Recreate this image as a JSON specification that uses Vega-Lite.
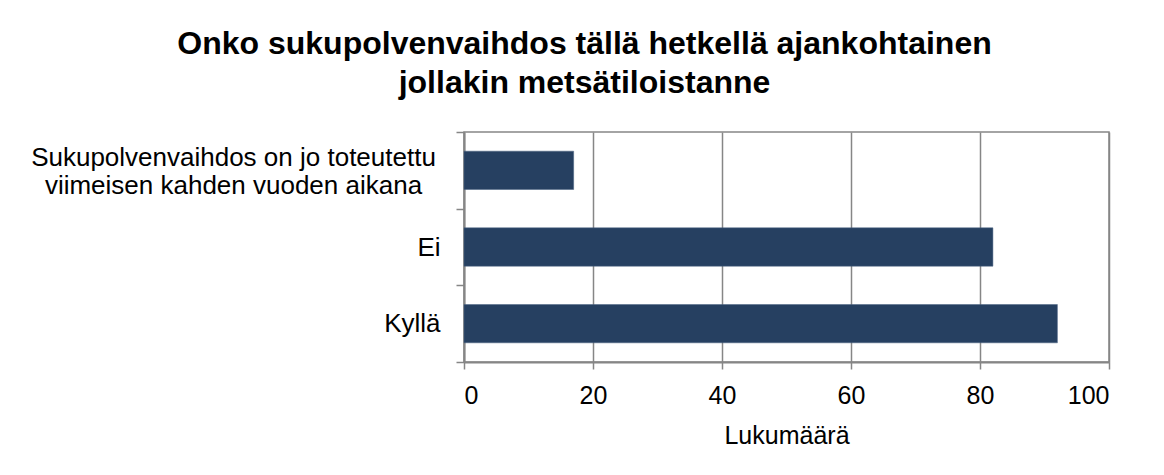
{
  "$schema": "https://vega.github.io/schema/vega-lite/v6.json",
  "autosize": "none",
  "padding": {"left": 464, "top": 132, "right": 55, "bottom": 113},
  "width": 645,
  "height": 230,
  "background": "white",
  "config": {
    "font": "Liberation Sans",
    "view": {"stroke": "#868686", "strokeWidth": 1.5},
    "axis": {
      "domainColor": "#868686",
      "domainWidth": 2,
      "tickColor": "#868686",
      "tickWidth": 1.5,
      "gridColor": "#868686",
      "gridWidth": 1.5,
      "labelColor": "#000000",
      "titleColor": "#000000",
      "labelFont": "Liberation Sans",
      "titleFont": "Liberation Sans"
    }
  },
  "title": {
    "text": ["Onko sukupolvenvaihdos tällä hetkellä ajankohtainen", "jollakin metsätiloistanne"],
    "font": "Liberation Sans",
    "fontSize": 32,
    "fontWeight": "bold",
    "color": "#000000",
    "anchor": "middle",
    "frame": "group",
    "dx": -202,
    "offset": 19,
    "lineHeight": 39
  },
  "data": {
    "values": [
      {"vastaus": "Sukupolvenvaihdos on jo toteutettu viimeisen kahden vuoden aikana", "lukumaara": 17},
      {"vastaus": "Ei", "lukumaara": 82},
      {"vastaus": "Kyllä", "lukumaara": 92}
    ]
  },
  "mark": {"type": "bar", "color": "#264061", "stroke": "#4a6282", "strokeWidth": 0.5, "height": {"band": 0.5}},
  "encoding": {
    "y": {
      "field": "vastaus",
      "type": "nominal",
      "sort": null,
      "scale": {"paddingInner": 0, "paddingOuter": 0},
      "axis": {
        "title": null,
        "tickBand": "extent",
        "tickSize": 8,
        "labelPadding": {"condition": {"test": "datum.value == 'Ei' || datum.value == 'Kyllä'", "value": 16}, "value": 223},
        "labelFontSize": 26,
        "labelLimit": 500,
        "labelLineHeight": 28,
        "labelOffset": {"condition": {"test": "datum.value == 'Ei' || datum.value == 'Kyllä'", "value": 0}, "value": -13},
        "labelAlign": {"condition": {"test": "datum.value == 'Ei' || datum.value == 'Kyllä'", "value": "right"}, "value": "center"},
        "labelExpr": "datum.label == '' ? '' : (datum.value == 'Ei' || datum.value == 'Kyllä' ? datum.value : ['Sukupolvenvaihdos on jo toteutettu', 'viimeisen kahden vuoden aikana'])"
      }
    },
    "x": {
      "field": "lukumaara",
      "type": "quantitative",
      "scale": {"domain": [0, 100], "nice": false},
      "axis": {
        "title": "Lukumäärä",
        "titleFontSize": 25,
        "titleFontWeight": "normal",
        "titlePadding": 15,
        "values": [0, 20, 40, 60, 80, 100],
        "tickSize": 7,
        "labelPadding": 14,
        "labelFontSize": 25,
        "grid": true
      }
    }
  }
}
